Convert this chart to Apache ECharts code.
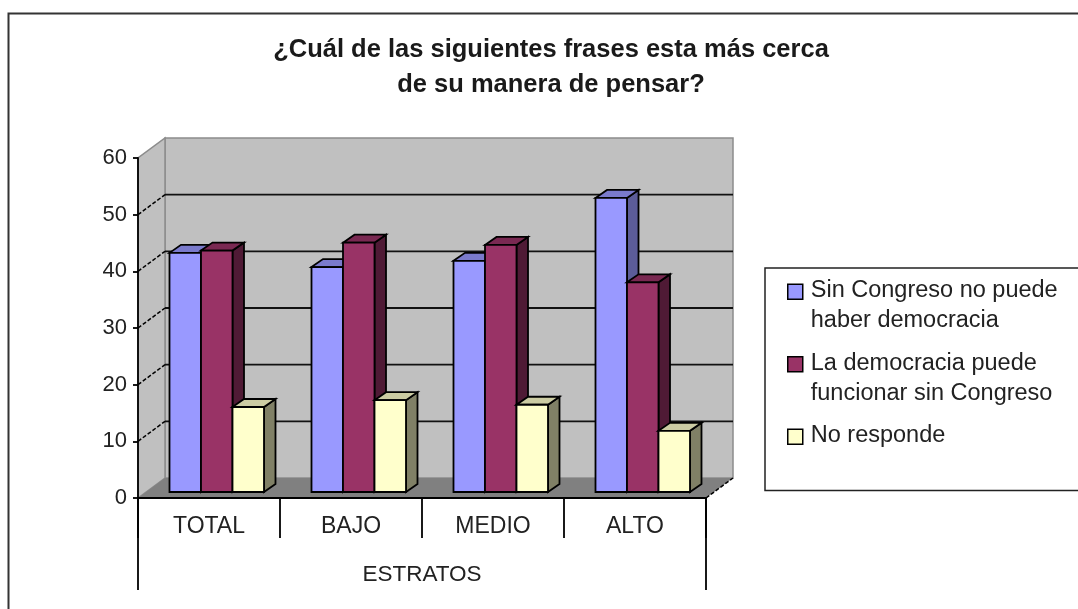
<!DOCTYPE html>
<html>
<head>
<meta charset="utf-8">
<style>html,body{margin:0;padding:0;background:#fff}#c{width:1078px;height:609px}</style>
<script src="https://cdn.jsdelivr.net/npm/echarts@6/dist/echarts.min.js"></script>
</head>
<body>
<div id="c"></div>
<script>
const categories = ['TOTAL', 'BAJO', 'MEDIO', 'ALTO'];
const groupLabel = ['ESTRATOS'];
const titleText = '¿Cuál de las siguientes frases esta más cerca\nde su manera de pensar?';
const gridTicks = [0, 10, 20, 30, 40, 50, 60];
const sinCongreso = [42.2, 39.7, 40.8, 51.9];
const funcionar = [42.6, 44, 43.6, 37];
const noResponde = [15, 16.2, 15.4, 10.8];
const seriesNames = ['Sin Congreso no puede\nhaber democracia', 'La democracia puede\nfuncionar sin Congreso', 'No responde\n '];
const fronts = ['#9999FF', '#993366', '#FFFFCC'];
const tops = ['#7A7ACC', '#7A2952', '#CCCCA3'];
const sides = ['#5C5C99', '#4F1A35', '#808066'];

const FONT = '"Liberation Sans", Arial, sans-serif';
const WALL_DX = 27, WALL_DY = -20;   // depth of the chart box
const BAR_DX = 11.5, BAR_DY = -8;    // depth of a bar
const BAR_W = 31.5, BAR_START = -39.5, BASE_LIFT = 6;
const EDGE = { stroke: '#000', lineWidth: 1.8 };

function wallsRender(params, api) {
  const band = api.size([1, 0])[0];
  const l = api.coord([0, 0])[0] - band / 2;
  const r = api.coord([categories.length - 1, 0])[0] + band / 2;
  const y0 = api.coord([0, 0])[1];
  const yMax = api.coord([0, 60])[1];
  const kids = [
    { type: 'polygon', shape: { points: [[l + WALL_DX, yMax + WALL_DY], [r + WALL_DX, yMax + WALL_DY], [r + WALL_DX, y0 + WALL_DY], [l + WALL_DX, y0 + WALL_DY]] },
      style: { fill: '#C0C0C0', stroke: '#8C8C8C', lineWidth: 1.5 } },
    { type: 'polygon', shape: { points: [[l, y0], [l + WALL_DX, y0 + WALL_DY], [l + WALL_DX, yMax + WALL_DY], [l, yMax]] },
      style: { fill: '#C0C0C0', stroke: '#8C8C8C', lineWidth: 1.5 } },
    { type: 'polygon', shape: { points: [[l, y0], [l + WALL_DX, y0 + WALL_DY], [r + WALL_DX, y0 + WALL_DY], [r, y0]] },
      style: { fill: '#808080' } },
    { type: 'line', shape: { x1: r, y1: y0, x2: r + WALL_DX, y2: y0 + WALL_DY },
      style: { stroke: '#000', lineWidth: 1.5, lineDash: [4, 2] } }
  ];
  gridTicks.forEach(function (v) {
    if (v === 0 || v === 60) return;
    const y = api.coord([0, v])[1];
    kids.push({ type: 'line', shape: { x1: l + WALL_DX, y1: y + WALL_DY, x2: r + WALL_DX, y2: y + WALL_DY }, style: { stroke: '#111', lineWidth: 1.8 } });
    kids.push({ type: 'line', shape: { x1: l, y1: y, x2: l + WALL_DX, y2: y + WALL_DY }, style: { stroke: '#000', lineWidth: 1.5, lineDash: [4, 2] } });
  });
  return { type: 'group', children: kids };
}

function barRender(idx) {
  return function (params, api) {
    const c = api.coord([api.value(0), api.value(1)]);
    const b = api.coord([api.value(0), 0]);
    const x0 = b[0] + BAR_START + idx * BAR_W, x1 = x0 + BAR_W;
    const yB = b[1] - BASE_LIFT, yT = c[1] - BASE_LIFT;
    return { type: 'group', children: [
      { type: 'polygon', shape: { points: [[x1, yT], [x1 + BAR_DX, yT + BAR_DY], [x1 + BAR_DX, yB + BAR_DY], [x1, yB]] },
        style: Object.assign({ fill: sides[idx] }, EDGE) },
      { type: 'polygon', shape: { points: [[x0, yT], [x0 + BAR_DX, yT + BAR_DY], [x1 + BAR_DX, yT + BAR_DY], [x1, yT]] },
        style: Object.assign({ fill: tops[idx] }, EDGE) },
      { type: 'rect', shape: { x: x0, y: yT, width: BAR_W, height: yB - yT },
        style: Object.assign({ fill: fronts[idx] }, EDGE) }
    ] };
  };
}

function barSeries(idx, values) {
  return {
    type: 'custom', name: seriesNames[idx], xAxisIndex: 0, yAxisIndex: 0, z: 3 + idx,
    renderItem: barRender(idx),
    encode: { x: 0, y: 1 },
    itemStyle: { color: fronts[idx] },
    data: values.map(function (v, i) { return [i, v]; })
  };
}

const chart = echarts.init(document.getElementById('c'), null, { renderer: 'canvas' });
chart.setOption({
  animation: false,
  backgroundColor: '#fff',
  title: {
    text: titleText, left: 546, top: 27, textAlign: 'center',
    textStyle: { fontFamily: FONT, fontWeight: 'bold', fontSize: 25.5, lineHeight: 35, color: '#1a1a1a' }
  },
  graphic: [{
    type: 'polyline', silent: true, z: -1,
    shape: { points: [[8.5, 609], [8.5, 13.5], [1078, 13.5]] },
    style: { stroke: '#333', lineWidth: 2, fill: null }
  }],
  legend: {
    orient: 'vertical', left: 765, top: 268,
    padding: [7, 60, 9, 22],
    data: seriesNames,
    icon: 'path://M0 0L0 0 M0 8.5H15V23.5H0Z M0 60L0 60',
    itemWidth: 15, itemHeight: 60, itemGap: 11,
    selectedMode: false,
    backgroundColor: '#fff', borderColor: '#222', borderWidth: 1.5,
    itemStyle: { borderColor: '#000', borderWidth: 1.5 },
    textStyle: { fontFamily: FONT, fontSize: 23.5, lineHeight: 30, color: '#222', padding: [0, 0, 0, 3] }
  },
  grid: { left: 138, top: 158, width: 568, height: 340 },
  xAxis: [{
    type: 'category', data: categories, position: 'bottom', z: 5,
    axisLine: { lineStyle: { color: '#000', width: 1.8 } },
    axisTick: { show: true, length: 40, interval: 0, lineStyle: { color: '#000', width: 1.8 } },
    axisLabel: { margin: 17, interval: 0, fontFamily: FONT, fontSize: 23, color: '#222' }
  }, {
    type: 'category', data: groupLabel, position: 'bottom', z: 5,
    axisLine: { show: false },
    axisTick: { show: true, length: 92, lineStyle: { color: '#000', width: 1.8 } },
    axisLabel: { margin: 65, fontFamily: FONT, fontSize: 22.5, color: '#222' }
  }],
  yAxis: {
    type: 'value', min: 0, max: 60, interval: 10, z: 5,
    axisLine: { show: true, lineStyle: { color: '#000', width: 1.8 } },
    axisTick: { show: true, length: 5, lineStyle: { color: '#000', width: 1.8 } },
    splitLine: { show: false },
    axisLabel: { margin: 11, fontFamily: FONT, fontSize: 22, color: '#222', padding: [0, 0, 3, 0] }
  },
  series: [
    { type: 'custom', name: 'paredes', z: 1, xAxisIndex: 0, yAxisIndex: 0, silent: true, renderItem: wallsRender, encode: { x: 0, y: 1 }, data: [[0, 0]] },
    barSeries(0, sinCongreso),
    barSeries(1, funcionar),
    barSeries(2, noResponde)
  ]
});
</script>
</body>
</html>
